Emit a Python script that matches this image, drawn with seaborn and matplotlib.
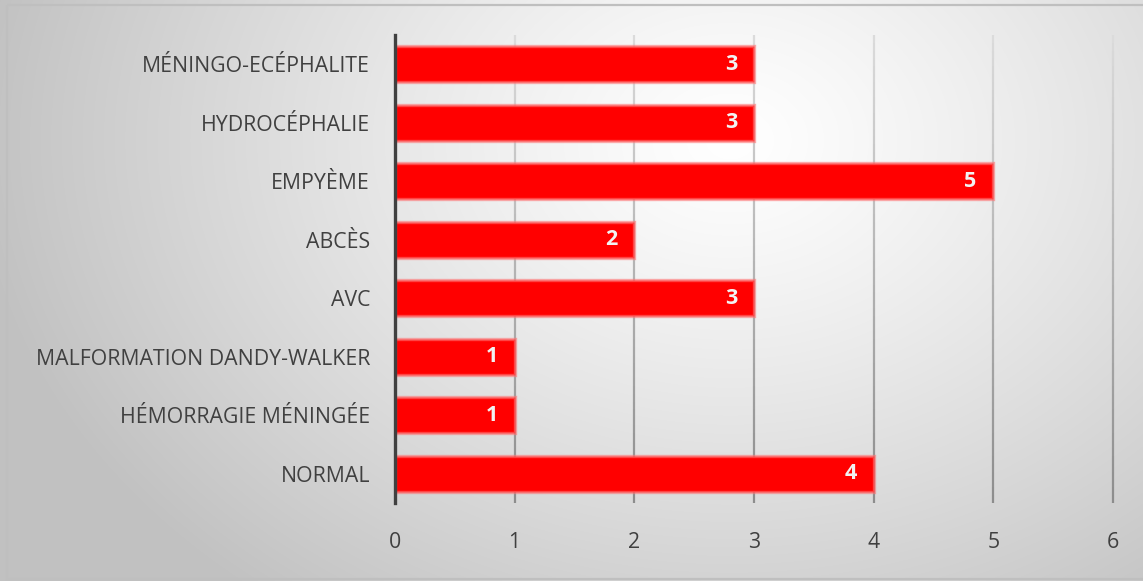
import numpy as np
import pandas as pd
import matplotlib
matplotlib.use("Agg")
import matplotlib.pyplot as plt
from matplotlib.collections import LineCollection
from matplotlib.patches import Rectangle
import seaborn as sns

categories = [
    "MÉNINGO-ECÉPHALITE",
    "HYDROCÉPHALIE",
    "EMPYÈME",
    "ABCÈS",
    "AVC",
    "MALFORMATION DANDY-WALKER",
    "HÉMORRAGIE MÉNINGÉE",
    "NORMAL",
]
counts = [3, 3, 5, 2, 3, 1, 1, 4]
x_ticks = [0, 1, 2, 3, 4, 5, 6]

df = pd.DataFrame({"diagnostic": categories, "n": counts})

sns.set_theme(style="white")
plt.rcParams["font.family"] = ["Open Sans", "DejaVu Sans"]

W, H = 1143, 581
fig = plt.figure(figsize=(W / 100, H / 100), dpi=100)

# soft radial background
bg = fig.add_axes([0, 0, 1, 1], zorder=0)
yy, xx = np.mgrid[0:H, 0:W]
cx, cy = 730, 140
r = np.sqrt(((xx - cx) / 1.3) ** 2 + (yy - cy) ** 2)
r = np.clip(r / 580, 0, 1)
shade = 1.0 - 0.24 * r ** 1.2
bg.imshow(np.dstack([shade] * 3), extent=[0, W, H, 0], aspect="auto")
bg.add_patch(Rectangle((7, 5), W, H - 7, fill=False, edgecolor="#bfbfbf", linewidth=1.6))
bg.set_xlim(0, W)
bg.set_ylim(H, 0)
bg.axis("off")

ax = fig.add_axes([395 / W, 1 - 503 / H, (1113 - 395) / W, (503 - 35) / H], zorder=1)
ax.set_facecolor("none")

sns.barplot(
    data=df, x="n", y="diagnostic", orient="h", color="#ff0000",
    saturation=1, width=0.62, ax=ax,
    edgecolor=(1.0, 0.45, 0.45, 0.6), linewidth=2.4, zorder=3,
)

ax.set_xlim(0, 6)
ax.set_ylim(len(categories) - 0.5, -0.5)
ax.set_xticks(x_ticks)
ax.set_xticklabels([str(t) for t in x_ticks])
ax.set_xlabel("")
ax.set_ylabel("")

# vertical gridlines shaded from light at the top to darker at the bottom
n_seg = 60
ys = np.linspace(-0.5, len(categories) - 0.5, n_seg + 1)
top_c = np.array([0.86, 0.86, 0.86])
bot_c = np.array([0.55, 0.55, 0.55])
for t in x_ticks[1:]:
    segs = [[(t, ys[k]), (t, ys[k + 1])] for k in range(n_seg)]
    frac = (np.arange(n_seg) + 0.5) / n_seg
    cols = [tuple(top_c + (bot_c - top_c) * f) for f in frac]
    ax.add_collection(LineCollection(segs, colors=cols, linewidths=1.6, zorder=1, clip_on=False))

for s in ["top", "right", "bottom"]:
    ax.spines[s].set_visible(False)
ax.spines["left"].set_color("#404040")
ax.spines["left"].set_linewidth(2.4)
ax.spines["left"].set_zorder(5)

ax.tick_params(axis="y", length=0, pad=18, labelsize=15.3, labelcolor="#404040")
ax.tick_params(axis="x", length=0, pad=21, labelsize=15.3, labelcolor="#404040")

for cont in ax.containers:
    ax.bar_label(cont, labels=[str(v) for v in counts], label_type="edge",
                 padding=-21, color="#f2f2f2", fontsize=15.5, fontweight="bold", zorder=6)

fig.savefig("out.png", dpi=100)
